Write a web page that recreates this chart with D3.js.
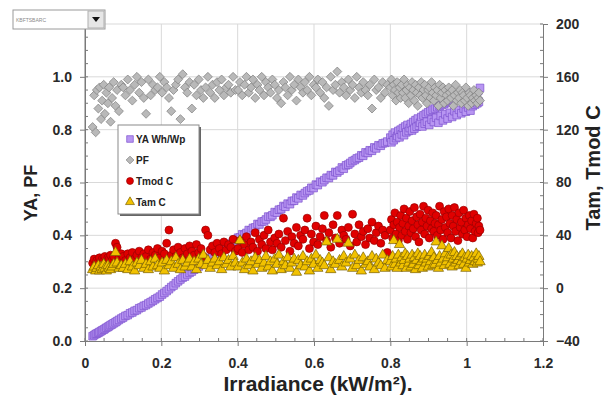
<!DOCTYPE html>
<html><head><meta charset="utf-8">
<script src="https://cdn.jsdelivr.net/npm/d3@7"></script>
<style>html,body{margin:0;padding:0;background:#fff;}svg{display:block;font-family:Arial,"Liberation Sans",sans-serif;}</style>
</head><body><svg id="c" width="612" height="396"></svg>
<script>
// ---- data ----
const irradiance = [
0.020,0.024,0.028,0.031,0.035,0.038,0.042,0.045,0.049,0.052,
0.056,0.060,0.063,0.067,0.071,0.075,0.080,0.084,0.089,0.095,
0.100,0.106,0.112,0.118,0.124,0.130,0.136,0.142,0.148,0.154,
0.160,0.166,0.172,0.178,0.184,0.190,0.196,0.202,0.208,0.214,
0.220,0.226,0.232,0.238,0.244,0.250,0.256,0.262,0.268,0.274,
0.280,0.286,0.292,0.298,0.304,0.310,0.316,0.322,0.328,0.334,
0.340,0.346,0.352,0.358,0.364,0.370,0.376,0.382,0.388,0.394,
0.401,0.406,0.412,0.418,0.423,0.429,0.435,0.440,0.446,0.452,
0.457,0.463,0.469,0.474,0.480,0.486,0.491,0.497,0.503,0.508,
0.514,0.520,0.525,0.531,0.537,0.542,0.548,0.554,0.559,0.565,
0.571,0.576,0.582,0.588,0.593,0.599,0.605,0.610,0.616,0.622,
0.627,0.633,0.639,0.644,0.650,0.656,0.661,0.667,0.673,0.678,
0.684,0.690,0.695,0.701,0.707,0.712,0.718,0.724,0.729,0.735,
0.741,0.746,0.752,0.758,0.763,0.769,0.775,0.780,0.786,0.792,
0.800,0.803,0.806,0.809,0.812,0.815,0.818,0.821,0.824,0.827,
0.830,0.833,0.836,0.839,0.842,0.845,0.848,0.851,0.854,0.857,
0.860,0.863,0.866,0.869,0.872,0.875,0.878,0.881,0.884,0.887,
0.890,0.893,0.896,0.899,0.902,0.905,0.908,0.911,0.914,0.917,
0.920,0.923,0.926,0.929,0.932,0.935,0.938,0.941,0.944,0.947,
0.950,0.953,0.956,0.959,0.962,0.965,0.968,0.971,0.974,0.977,
0.980,0.983,0.986,0.989,0.992,0.995,0.998,1.001,1.004,1.007,
1.010,1.013,1.016,1.019,1.022,1.025,1.028,1.030,1.032,1.035];

const yaWhWp = [
0.018,0.022,0.026,0.028,0.031,0.034,0.037,0.040,0.043,0.046,
0.050,0.053,0.056,0.060,0.063,0.067,0.071,0.075,0.080,0.085,
0.089,0.095,0.098,0.105,0.108,0.114,0.117,0.124,0.127,0.133,
0.136,0.142,0.147,0.152,0.158,0.163,0.168,0.176,0.182,0.189,
0.196,0.204,0.210,0.219,0.226,0.233,0.240,0.244,0.252,0.258,
0.263,0.270,0.277,0.282,0.290,0.295,0.301,0.306,0.314,0.318,
0.326,0.330,0.338,0.343,0.350,0.356,0.362,0.368,0.376,0.382,
0.391,0.392,0.404,0.402,0.409,0.420,0.419,0.428,0.430,0.443,
0.441,0.452,0.453,0.460,0.471,0.470,0.476,0.488,0.486,0.497,
0.499,0.511,0.508,0.520,0.518,0.530,0.531,0.543,0.540,0.553,
0.551,0.560,0.567,0.570,0.580,0.579,0.592,0.590,0.603,0.601,
0.609,0.618,0.617,0.628,0.627,0.640,0.638,0.645,0.657,0.652,
0.665,0.668,0.674,0.681,0.685,0.691,0.694,0.703,0.701,0.714,
0.712,0.722,0.720,0.733,0.729,0.741,0.739,0.748,0.750,0.755,
0.770,0.752,0.781,0.760,0.789,0.768,0.776,0.795,0.771,0.800,
0.782,0.806,0.779,0.812,0.790,0.818,0.795,0.806,0.822,0.797,
0.829,0.804,0.836,0.811,0.842,0.815,0.826,0.848,0.812,0.854,
0.823,0.860,0.830,0.866,0.818,0.871,0.838,0.876,0.829,0.880,
0.845,0.885,0.826,0.889,0.852,0.893,0.835,0.897,0.858,0.901,
0.842,0.905,0.864,0.909,0.848,0.912,0.870,0.916,0.855,0.919,
0.875,0.922,0.862,0.925,0.880,0.928,0.868,0.931,0.884,0.934,
0.872,0.937,0.889,0.940,0.895,0.943,0.900,0.946,0.905,0.958];

const pf = [
0.81,0.93,0.79,0.95,0.88,0.96,0.84,0.91,0.97,0.86,
0.94,0.90,0.96,0.83,0.92,0.98,0.89,0.95,0.87,0.97,
0.96,0.93,0.99,0.95,0.91,0.97,1.00,0.94,0.98,0.92,
0.86,0.99,0.93,0.97,0.95,0.96,1.00,0.94,0.98,0.96,
0.92,0.87,0.95,0.97,0.99,0.84,1.01,0.96,0.94,0.98,
0.88,0.97,0.93,0.99,0.95,0.92,0.96,1.00,0.94,0.97,
0.92,0.98,0.95,0.99,0.93,0.96,0.97,0.94,1.00,0.95,
0.95,0.98,0.93,0.97,1.00,0.94,0.96,0.99,0.92,0.97,
0.95,1.00,0.93,0.98,0.96,0.94,0.99,0.97,0.92,0.95,
0.90,0.98,0.96,0.93,1.00,0.95,0.97,0.91,0.99,0.96,
0.94,0.98,0.95,1.00,0.93,0.97,0.96,0.99,0.94,0.98,
0.92,0.96,0.89,1.00,0.95,0.97,1.02,0.94,0.98,0.96,
0.93,0.99,0.95,0.97,0.92,1.00,0.96,0.94,0.98,0.95,
0.93,0.97,0.88,0.99,0.95,0.96,0.92,0.98,0.94,0.97,
0.96,0.99,0.93,0.97,0.95,0.91,0.98,0.94,0.96,0.92,
0.97,0.94,0.99,0.92,0.95,0.97,0.90,0.96,0.93,0.98,
0.95,0.91,0.97,0.94,0.89,0.96,0.93,0.98,0.92,0.95,
0.97,0.93,0.90,0.95,0.96,0.92,0.98,0.94,0.91,0.96,
0.93,0.95,0.89,0.97,0.92,0.94,0.96,0.90,0.95,0.93,
0.91,0.96,0.94,0.92,0.95,0.89,0.93,0.97,0.91,0.94,
0.92,0.95,0.90,0.94,0.93,0.91,0.96,0.92,0.89,0.94,
0.93,0.90,0.92,0.95,0.91,0.93,0.90,0.92,0.94,0.91];

const tmodC = [
19,22,18,21,20,23,19,22,21,24,
20,23,22,25,21,24,34,31,23,26,
24,21,26,23,27,22,25,28,23,26,
24,29,22,27,25,30,23,28,26,34,
44,25,29,24,31,27,23,30,26,32,
28,25,33,27,30,24,44,40,29,32,
27,34,30,26,35,29,33,31,37,28,
30,36,27,33,39,29,35,31,42,28,
37,33,40,30,44,35,29,38,34,41,
31,53,36,43,28,39,34,46,32,40,
37,44,53,30,41,35,47,33,39,45,
55,36,42,31,48,38,55,34,44,40,
37,46,32,56,41,35,48,39,43,33,
45,38,50,36,42,47,34,44,40,27,
44,52,38,48,57,41,50,36,46,55,
40,49,60,43,53,37,47,58,42,51,
45,61,39,54,48,35,56,44,50,62,
41,53,47,59,38,51,45,57,43,49,
55,40,48,62,44,52,37,58,46,54,
42,60,49,38,55,47,61,43,52,36,
57,46,50,41,59,44,53,39,48,55,
45,51,38,56,43,49,53,42,47,44];

const tamC = [
14,16,13,15,17,13,16,14,18,15,
13,17,15,14,16,18,27,19,15,17,
15,18,14,20,16,13,19,17,21,15,
18,14,20,16,22,17,15,19,13,21,
17,20,15,23,18,14,21,16,19,22,
16,20,14,22,18,25,17,21,15,19,
22,17,20,14,23,18,21,16,24,19,
16,36,19,14,22,17,20,13,23,18,
21,15,19,24,16,20,13,22,18,25,
14,20,17,23,15,19,22,12,21,17,
24,16,20,13,22,18,25,15,21,19,
17,35,23,14,20,18,37,21,16,24,
19,34,22,15,25,17,21,13,23,18,
20,16,24,14,22,19,17,25,15,21,
20,16,24,36,18,22,15,25,33,19,
23,17,21,26,15,24,19,22,16,25,
18,23,14,21,26,17,24,20,15,22,
25,19,22,16,24,20,27,17,23,18,
35,21,15,24,19,32,22,17,26,20,
23,30,18,25,16,22,27,19,24,21,
17,24,20,26,18,23,15,22,25,19,
21,24,18,23,20,26,19,22,24,20];

const xTicks = [0, 0.2, 0.4, 0.6, 0.8, 1, 1.2];
const leftTicks = [0, 0.2, 0.4, 0.6, 0.8, 1.0];
const leftGrid = [0.2, 0.4, 0.6, 0.8, 1.0, 1.2];
const rightTicks = [-40, 0, 40, 80, 120, 160, 200];
const seriesNames = ["YA Wh/Wp", "PF", "Tmod C", "Tam C"];
const xTitle = "Irradiance (kW/m\u00b2).";
const yLeftTitle = "YA, PF";
const yRightTitle = "Tam, Tmod C";
const dropdownLabel = "KBFTSBARC";

// ---- chart ----
const svg = d3.select("#c");
const L = 85, R = 543, T = 24, B = 341;
const x = d3.scaleLinear().domain([0, 1.2]).range([L, R]);
const yL = d3.scaleLinear().domain([0, 1.2]).range([B, T]);
const yR = d3.scaleLinear().domain([-40, 200]).range([B, T]);

const gridC = "#d9d9d9";
const g = svg.append("g");
g.selectAll(".hg").data(leftGrid).join("line")
  .attr("x1", L).attr("x2", R).attr("y1", d => yL(d)).attr("y2", d => yL(d))
  .attr("stroke", gridC).attr("stroke-width", 1);
g.selectAll(".vg").data(xTicks.filter(d => d > 0 && d < 1.2)).join("line")
  .attr("x1", d => x(d)).attr("x2", d => x(d)).attr("y1", T).attr("y2", B)
  .attr("stroke", gridC).attr("stroke-width", 1);

const axC = "#7a7a7a";
function styleAxis(sel) {
  sel.select(".domain").attr("stroke", axC);
  sel.selectAll(".tick line").attr("stroke", axC);
  sel.selectAll("text").attr("fill", "#2a2a2a").style("font-weight", "bold").style("font-size", "14px");
}
const xMinor = d3.range(0, 1.2001, 0.05);
const lMinor = d3.range(0, 1.2001, 0.05);
const rMinor = d3.range(-40, 200.01, 10);
g.append("g").selectAll("line").data(xMinor).join("line")
  .attr("x1", d => x(d)).attr("x2", d => x(d)).attr("y1", B).attr("y2", B - 3).attr("stroke", axC);
g.append("g").selectAll("line").data(lMinor).join("line")
  .attr("x1", L).attr("x2", L + 3).attr("y1", d => yL(d)).attr("y2", d => yL(d)).attr("stroke", axC);
g.append("g").selectAll("line").data(rMinor).join("line")
  .attr("x1", R - 3).attr("x2", R).attr("y1", d => yR(d)).attr("y2", d => yR(d)).attr("stroke", axC);

g.append("g").attr("transform", `translate(0,${B})`)
  .call(d3.axisBottom(x).tickValues(xTicks).tickFormat(d3.format("")).tickSizeInner(5).tickSizeOuter(0).tickPadding(12))
  .call(styleAxis);
g.append("g").attr("transform", `translate(${L},0)`)
  .call(d3.axisLeft(yL).tickValues(leftTicks).tickFormat(d3.format(".1f")).tickSizeInner(5).tickSizeOuter(0).tickPadding(8))
  .call(styleAxis);
g.append("line").attr("x1", L).attr("x2", L).attr("y1", T).attr("y2", B).attr("stroke", axC);
g.append("g").attr("transform", `translate(${R},0)`)
  .call(d3.axisRight(yR).tickValues(rightTicks).tickFormat(d3.format("d")).tickSizeInner(5).tickSizeOuter(0).tickPadding(8))
  .call(styleAxis);

// points
const pts = irradiance.map((v, i) => ({ irr: v, ya: yaWhWp[i], pf: pf[i], tmod: tmodC[i], tam: tamC[i] }));
const squareDiamond = {
  draw(ctx, size) {
    const r = Math.sqrt(size / 2);
    ctx.moveTo(0, -r); ctx.lineTo(r, 0); ctx.lineTo(0, r); ctx.lineTo(-r, 0); ctx.closePath();
  }
};
const styles = [
  { type: d3.symbolSquare, size: 58, fill: "#b896f2", stroke: "#7d52cf" },
  { type: squareDiamond, size: 40, fill: "#b9b9b9", stroke: "#7c7c7c" },
  { type: d3.symbolCircle, size: 50, fill: "#e00000", stroke: "#9a0000" },
  { type: d3.symbolTriangle, size: 46, fill: "#f2c200", stroke: "#7a6000" }
];
const accessors = [
  d => yL(d.ya), d => yL(d.pf), d => yR(d.tmod), d => yR(d.tam)
];
styles.forEach((s, k) => {
  g.append("g").selectAll("path").data(pts).join("path")
    .attr("d", d3.symbol().type(s.type).size(s.size))
    .attr("transform", d => `translate(${x(d.irr)},${accessors[k](d)})`)
    .attr("fill", s.fill).attr("stroke", s.stroke).attr("stroke-width", 0.7);
});

// legend
const lg = svg.append("g");
lg.append("rect").attr("x", 120).attr("y", 127).attr("width", 81).attr("height", 89).attr("fill", "#666");
lg.append("rect").attr("x", 118).attr("y", 125).attr("width", 81).attr("height", 89).attr("fill", "#fff").attr("stroke", "#8a8a8a");
seriesNames.forEach((n, k) => {
  const cy = 139 + k * 21;
  const s = styles[k];
  lg.append("path").attr("d", d3.symbol().type(s.type).size(s.size * 0.75)())
    .attr("transform", `translate(130,${cy})`).attr("fill", s.fill).attr("stroke", s.stroke).attr("stroke-width", 0.7);
  lg.append("text").attr("x", 136).attr("y", cy + 3.5).text(n)
    .style("font-size", "10px").style("font-weight", "bold").attr("fill", "#222");
});

// titles
svg.append("text").attr("x", 318).attr("y", 391).attr("text-anchor", "middle").text(xTitle)
  .style("font-size", "21px").style("font-weight", "bold").attr("fill", "#222");
svg.append("text").attr("transform", "translate(37,193) rotate(-90)").attr("text-anchor", "middle").text(yLeftTitle)
  .style("font-size", "18px").style("font-weight", "bold").attr("fill", "#222");
svg.append("text").attr("transform", "translate(600,168) rotate(-90)").attr("text-anchor", "middle").text(yRightTitle)
  .style("font-size", "20px").style("font-weight", "bold").attr("fill", "#222");

// dropdown control
const dd = svg.append("g");
dd.append("rect").attr("x", 13).attr("y", 10).attr("width", 92).attr("height", 19).attr("fill", "#fff").attr("stroke", "#9a9a9a");
dd.append("rect").attr("x", 88).attr("y", 11).attr("width", 16).attr("height", 17).attr("fill", "#e6e6e6").attr("stroke", "#b0b0b0");
dd.append("path").attr("d", "M92,17 L100,17 L96,22 Z").attr("fill", "#111");
dd.append("text").attr("x", 16).attr("y", 21.5).text(dropdownLabel).style("font-size", "5px").attr("fill", "#8a8a8a");
</script>
</body></html>
